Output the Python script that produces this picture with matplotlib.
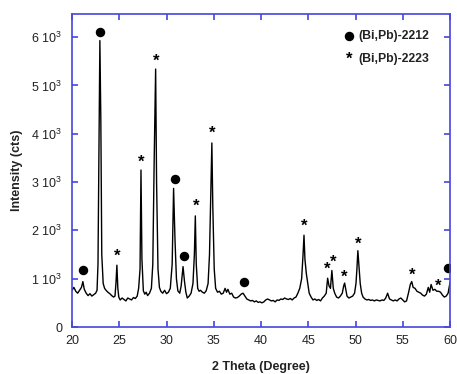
import matplotlib
matplotlib.use("Agg")
import matplotlib.pyplot as plt

plt.rcParams['font.family'] = ['Liberation Sans', 'DejaVu Sans']
plt.rcParams['mathtext.fontset'] = 'custom'
plt.rcParams['mathtext.rm'] = 'Liberation Sans'
plt.rcParams['mathtext.it'] = 'Liberation Sans'

# XRD pattern
two_theta = [
    20.0, 20.2, 20.4, 20.6, 20.8, 21.0, 21.15, 21.3, 21.5, 21.7, 21.9, 22.1, 22.3, 22.5, 22.65, 22.75,
    22.85, 22.95, 23.05, 23.15, 23.3, 23.45, 23.6, 23.8, 24.0, 24.2, 24.4, 24.55, 24.65, 24.75, 24.85,
    24.95, 25.1, 25.3, 25.5, 25.7, 25.9, 26.1, 26.3, 26.5, 26.7, 26.9, 27.05, 27.2, 27.3, 27.4, 27.55,
    27.7, 27.85, 28.0, 28.2, 28.4, 28.55, 28.7, 28.85, 28.95, 29.1, 29.25, 29.4, 29.6, 29.8, 30.0,
    30.2, 30.4, 30.6, 30.75, 30.9, 31.05, 31.2, 31.4, 31.55, 31.75, 31.9, 32.05, 32.2, 32.4, 32.6,
    32.8, 32.95, 33.05, 33.15, 33.3, 33.45, 33.6, 33.8, 34.0, 34.2, 34.4, 34.55, 34.7, 34.8, 34.9,
    35.05, 35.2, 35.4, 35.6, 35.8, 36.0, 36.2, 36.35, 36.5, 36.7, 36.9, 37.1, 37.3, 37.5, 37.7, 37.9,
    38.1, 38.3, 38.5, 38.7, 38.9, 39.1, 39.3, 39.5, 39.7, 39.9, 40.1, 40.3, 40.5, 40.7, 40.9, 41.1,
    41.3, 41.5, 41.7, 41.9, 42.1, 42.3, 42.5, 42.7, 42.9, 43.1, 43.3, 43.5, 43.7, 43.9, 44.1, 44.3,
    44.45, 44.55, 44.65, 44.8, 44.95, 45.1, 45.3, 45.5, 45.7, 45.9, 46.1, 46.3, 46.5, 46.7, 46.9,
    47.05, 47.2, 47.35, 47.5, 47.65, 47.8, 48.0, 48.2, 48.4, 48.6, 48.75, 48.85, 48.95, 49.1, 49.3,
    49.5, 49.7, 49.9, 50.05, 50.15, 50.25, 50.35, 50.5, 50.65, 50.8, 51.0, 51.2, 51.4, 51.6, 51.8,
    52.0, 52.2, 52.4, 52.6, 52.8, 53.0, 53.2, 53.4, 53.6, 53.8, 54.0, 54.2, 54.4, 54.6, 54.8, 55.0,
    55.2, 55.4, 55.6, 55.8, 55.95, 56.1, 56.3, 56.5, 56.7, 56.9, 57.1, 57.3, 57.5, 57.7, 57.85, 58.0,
    58.2, 58.4, 58.6, 58.8, 59.0, 59.2, 59.4, 59.6, 59.8, 60.0,
]
intensity = [
    760, 820, 740, 700, 760, 820, 940, 780, 700, 650, 690, 640, 670, 700, 760, 1300,
    3500, 5930, 4300, 1500, 900, 800, 760, 720, 690, 650, 620, 640, 900, 1280, 800,
    620, 560, 600, 570, 540, 600, 580, 560, 610, 590, 640, 800, 1200, 3250, 1400, 750,
    680, 720, 650, 700, 800, 1300, 3500, 5340, 3000, 1200, 820, 740, 700, 760, 690,
    720, 800, 1300, 2870, 1800, 1000, 750, 700, 850, 1250, 950, 720, 600, 640, 700,
    900, 1500, 2300, 1300, 800, 740, 760, 720, 700, 750, 900, 1500, 2900, 3810, 2500,
    1200, 800, 720, 740, 680, 700, 800, 720, 780, 680, 700, 620, 600, 610, 640, 680,
    700, 640, 580, 560, 540, 550, 520, 540, 510, 520, 500, 520, 560, 580, 560, 540,
    550, 520, 560, 550, 580, 570, 600, 580, 570, 590, 560, 600, 620, 700, 800, 1000,
    1500, 1900, 1400, 1100, 900, 700, 620, 560, 580, 550, 570, 540, 600, 640, 700,
    1010, 850, 800, 1170, 800, 700, 620, 600, 640, 700, 850, 910, 800, 640, 600,
    620, 640, 700, 900, 1200, 1580, 1300, 900, 700, 620, 580, 560, 570, 550, 560,
    540, 560, 550, 540, 560, 550, 600, 700, 580, 560, 540, 560, 540, 580, 600, 560,
    520, 540, 700, 880, 940, 820, 800, 740, 720, 700, 660, 640, 680, 820, 720, 880,
    760, 780, 740, 740, 720, 660, 620, 640, 700, 920,
]

# Phase markers
phase2212_x = [21.15, 22.95, 30.85, 31.8, 38.15, 59.75]
phase2212_y = [1170, 6110, 3060, 1460, 940, 1220]
phase2223_x = [24.75, 27.35, 28.9, 33.1, 34.8, 44.55, 47.0, 47.6, 48.85, 50.3, 55.95, 58.7]
phase2223_y = [1470, 3420, 5500, 2490, 4020, 2080, 1200, 1340, 1035, 1720, 1080, 835]

legend_labels = ["(Bi,Pb)-2212", "(Bi,Pb)-2223"]
y_ticks = [0, 1000, 2000, 3000, 4000, 5000, 6000]
y_ticklabels = ["0"] + [f"{v // 1000} 10$^3$" for v in y_ticks[1:]]
x_ticks = [20, 25, 30, 35, 40, 45, 50, 55, 60]

blue = '#4646dc'

fig = plt.figure(figsize=(4.57, 3.74), dpi=100)
ax = fig.add_axes([72 / 457, 47 / 374, 378 / 457, 313 / 374])

ax.plot(two_theta, intensity, color='black', lw=1.0)
ax.plot(phase2212_x, phase2212_y, 'o', color='black', markersize=5.8, linestyle='none')
for x, y in zip(phase2223_x, phase2223_y):
    ax.text(x, y, '*', ha='center', va='center', fontsize=12, fontweight='bold', color='black')

ax.set_xlim(20, 60)
ax.set_ylim(0, 6480)
ax.set_xticks(x_ticks)
ax.set_xticklabels([str(v) for v in x_ticks])
ax.set_yticks(y_ticks)
ax.set_yticklabels(y_ticklabels)

for s in ax.spines.values():
    s.set_color(blue)
    s.set_linewidth(1.2)
ax.tick_params(direction='in', length=4.5, width=1.2, color=blue, top=True, right=True,
               labelsize=9, labelcolor='#222222')
ax.tick_params(axis='y', pad=7)
ax.tick_params(axis='x', pad=6)

ax.set_xlabel("2 Theta (Degree)", fontsize=9, fontweight='bold', color='#222222', labelpad=10)
ax.set_ylabel("Intensity (cts)", fontsize=9, fontweight='bold', color='#222222', labelpad=6)

# legend drawn in axes coordinates
ax.plot([0.732], [0.93], 'o', color='black', markersize=5.8, transform=ax.transAxes, clip_on=False)
ax.text(0.758, 0.93, legend_labels[0], transform=ax.transAxes, ha='left', va='center',
        fontsize=8.8, fontweight='bold', color='#222222')
ax.text(0.732, 0.855, '*', transform=ax.transAxes, ha='center', va='center',
        fontsize=12, fontweight='bold', color='black')
ax.text(0.758, 0.855, legend_labels[1], transform=ax.transAxes, ha='left', va='center',
        fontsize=8.8, fontweight='bold', color='#222222')

fig.savefig("out.png", dpi=100)
